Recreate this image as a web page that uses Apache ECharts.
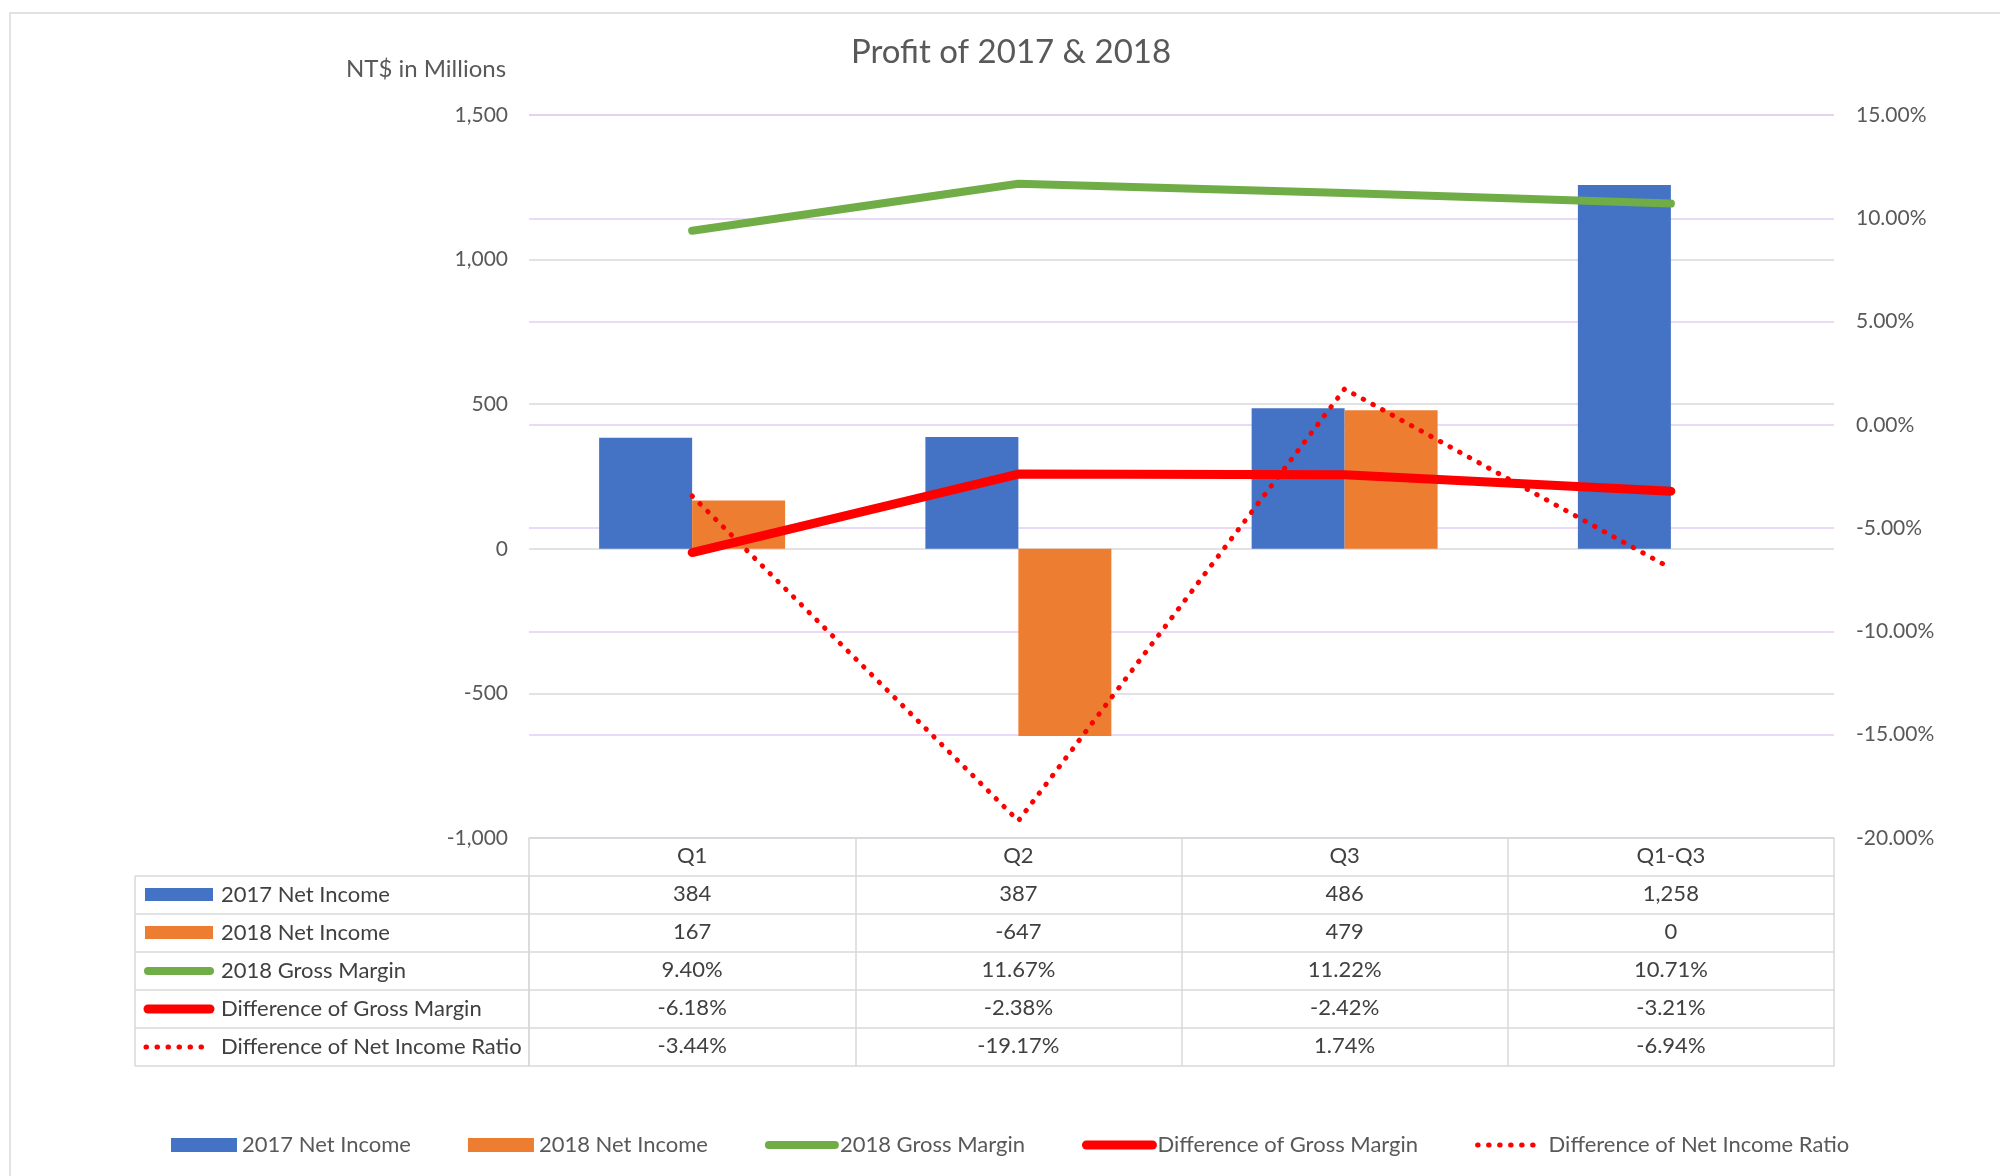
<!DOCTYPE html>
<html><head><meta charset="utf-8">
<script src="https://cdn.jsdelivr.net/npm/echarts@6/dist/echarts.min.js"></script>
<style>html,body{margin:0;padding:0;background:#fff}#c{width:2000px;height:1176px}</style>
</head><body><div id="c"></div>
<script>
// ---------- data ----------
const categories = ['Q1', 'Q2', 'Q3', 'Q1-Q3'];
const netIncome2017 = [384, 387, 486, 1258];
const netIncome2018 = [167, -647, 479, 0];
const grossMargin2018 = [9.40, 11.67, 11.22, 10.71];
const diffGrossMargin = [-6.18, -2.38, -2.42, -3.21];
const diffNetIncomeRatio = [-3.44, -19.17, 1.74, -6.94];
const seriesNames = ['2017 Net Income', '2018 Net Income', '2018 Gross Margin', 'Difference of Gross Margin', 'Difference of Net Income Ratio'];
const leftTicks = { min: -1000, max: 1500, interval: 500 };
const rightTicks = { min: -20, max: 15, interval: 5 };

// ---------- style / layout ----------
const FONT = 'Lato';
const BLUE = '#4472C4', ORANGE = '#ED7D31', GREEN = '#70AD47', RED = '#FF0000';
const LINE = '#d9d9d9', PURPLE = '#e4cdf6';
const GRID_L = 529, GRID_R = 1834, GRID_T = 115, GRID_B = 838, ROW_H = 38, TABLE_L = 135;
const W = 2000, H = 1176;
const TXT = 22;

const fmtNum = v => v.toLocaleString('en-US');
const fmtPct = v => v.toFixed(2) + '%';
const tableRows = [
  netIncome2017.map(fmtNum),
  netIncome2018.map(fmtNum),
  grossMargin2018.map(fmtPct),
  diffGrossMargin.map(fmtPct),
  diffNetIncomeRatio.map(fmtPct)
];

function tableAxis(data, offset, showLabel, showTick) {
  return {
    type: 'category', gridIndex: 0, position: 'bottom', offset: offset, data: data,
    boundaryGap: true,
    axisLine: { show: true, onZero: false, lineStyle: { color: LINE, width: 1.5 } },
    axisTick: { show: showTick, length: ROW_H, interval: 0, alignWithLabel: false, lineStyle: { color: LINE, width: 1.5 } },
    axisLabel: { show: showLabel, interval: 0, margin: 7, fontFamily: FONT, fontSize: TXT, color: '#404040' },
    splitLine: { show: false }
  };
}
const xAxes = [tableAxis(categories, 0, true, true)];
tableRows.forEach((r, i) => xAxes.push(tableAxis(r, ROW_H * (i + 1), true, true)));
xAxes.push(tableAxis(categories, ROW_H * 6, false, false));

// left column of data table (legend keys + names)
const graphics = [];
graphics.push({ type: 'rect', shape: { x: 10, y: 13, width: W, height: H }, style: { fill: 'none', stroke: LINE, lineWidth: 1.5 }, silent: true, z: -10 });
for (let k = 1; k <= 6; k++) {
  const y = GRID_B + ROW_H * k;
  graphics.push({ type: 'line', shape: { x1: TABLE_L, y1: y, x2: GRID_L, y2: y }, style: { stroke: LINE, lineWidth: 1.5 }, silent: true });
}
graphics.push({ type: 'line', shape: { x1: TABLE_L, y1: GRID_B + ROW_H, x2: TABLE_L, y2: GRID_B + ROW_H * 6 }, style: { stroke: LINE, lineWidth: 1.5 }, silent: true });
graphics.push({ type: 'line', shape: { x1: GRID_L, y1: GRID_B + ROW_H, x2: GRID_L, y2: GRID_B + ROW_H * 6 }, style: { stroke: LINE, lineWidth: 1.5 }, silent: true });
const keyStyles = [
  { kind: 'rect', color: BLUE },
  { kind: 'rect', color: ORANGE },
  { kind: 'line', color: GREEN, width: 8 },
  { kind: 'line', color: RED, width: 9 },
  { kind: 'dot', color: RED, width: 5 }
];
seriesNames.forEach((name, i) => {
  const cy = GRID_B + ROW_H * (i + 1) + ROW_H / 2;
  const ks = keyStyles[i];
  if (ks.kind === 'rect') {
    graphics.push({ type: 'rect', shape: { x: 145, y: cy - 7, width: 68, height: 13 }, style: { fill: ks.color }, silent: true });
  } else if (ks.kind === 'line') {
    graphics.push({ type: 'line', shape: { x1: 148, y1: cy, x2: 210, y2: cy }, style: { stroke: ks.color, lineWidth: ks.width, lineCap: 'round' }, silent: true });
  } else {
    graphics.push({ type: 'line', shape: { x1: 146, y1: cy, x2: 212, y2: cy }, style: { stroke: ks.color, lineWidth: ks.width, lineCap: 'round', lineDash: [0.5, 10.5] }, silent: true });
  }
  graphics.push({ type: 'text', x: 221, y: cy, style: { text: name, fontFamily: FONT, fontSize: TXT, fill: '#404040', verticalAlign: 'middle', align: 'left' }, silent: true });
});

const hideSymbol = { opacity: 0 };
const option = {
  backgroundColor: '#fff',
  animation: false,
  title: [
    { text: 'Profit of 2017 & 2018', left: 1006, top: 31, textAlign: 'center', textStyle: { fontFamily: FONT, fontSize: 33, fontWeight: 'normal', color: '#595959' } },
    { text: 'NT$ in Millions', left: 421, top: 52, textAlign: 'center', textStyle: { fontFamily: FONT, fontSize: 24, fontWeight: 'normal', color: '#595959' } }
  ],
  grid: { left: GRID_L, right: W - GRID_R, top: GRID_T, bottom: H - GRID_B, containLabel: false },
  legend: {
    left: 166, top: 1129, itemWidth: 66, itemHeight: 14, itemGap: 57,
    textStyle: { fontFamily: FONT, fontSize: TXT, color: '#595959' },
    lineStyle: { width: 'inherit' },
    data: [
      { name: seriesNames[0], icon: 'rect' },
      { name: seriesNames[1], icon: 'rect' },
      { name: seriesNames[2], itemStyle: hideSymbol },
      { name: seriesNames[3], itemStyle: hideSymbol },
      { name: seriesNames[4], itemStyle: hideSymbol }
    ]
  },
  xAxis: xAxes,
  yAxis: [
    {
      type: 'value', min: leftTicks.min, max: leftTicks.max, interval: leftTicks.interval, position: 'left',
      axisLine: { show: false }, axisTick: { show: false },
      axisLabel: { margin: 21, fontFamily: FONT, fontSize: 21, color: '#595959', formatter: v => fmtNum(v) },
      splitLine: { show: true, lineStyle: { color: LINE, width: 1.5 } }
    },
    {
      type: 'value', min: rightTicks.min, max: rightTicks.max, interval: rightTicks.interval, position: 'right',
      axisLine: { show: false }, axisTick: { show: false },
      axisLabel: { margin: 22, fontFamily: FONT, fontSize: 21, color: '#595959', formatter: v => fmtPct(v) },
      splitLine: { show: true, lineStyle: { color: PURPLE, width: 1.5 } }
    }
  ],
  series: [
    { name: seriesNames[0], type: 'bar', xAxisIndex: 0, yAxisIndex: 0, data: netIncome2017, barGap: '0%', barCategoryGap: '43%', itemStyle: { color: BLUE } },
    { name: seriesNames[1], type: 'bar', xAxisIndex: 0, yAxisIndex: 0, data: netIncome2018, barGap: '0%', barCategoryGap: '43%', itemStyle: { color: ORANGE } },
    { name: seriesNames[2], type: 'line', xAxisIndex: 0, yAxisIndex: 1, data: grossMargin2018, symbol: 'none', lineStyle: { color: GREEN, width: 8, cap: 'round', join: 'round' }, itemStyle: { color: GREEN } },
    { name: seriesNames[3], type: 'line', xAxisIndex: 0, yAxisIndex: 1, data: diffGrossMargin, symbol: 'none', lineStyle: { color: RED, width: 9, cap: 'round', join: 'round' }, itemStyle: { color: RED } },
    { name: seriesNames[4], type: 'line', xAxisIndex: 0, yAxisIndex: 1, data: diffNetIncomeRatio, symbol: 'none', lineStyle: { color: RED, width: 5, type: [0.5, 10.5], cap: 'round', join: 'round' }, itemStyle: { color: RED } }
  ],
  graphic: graphics
};
const chart = echarts.init(document.getElementById('c'), null, { renderer: 'canvas' });
chart.setOption(option);
</script>
</body></html>
